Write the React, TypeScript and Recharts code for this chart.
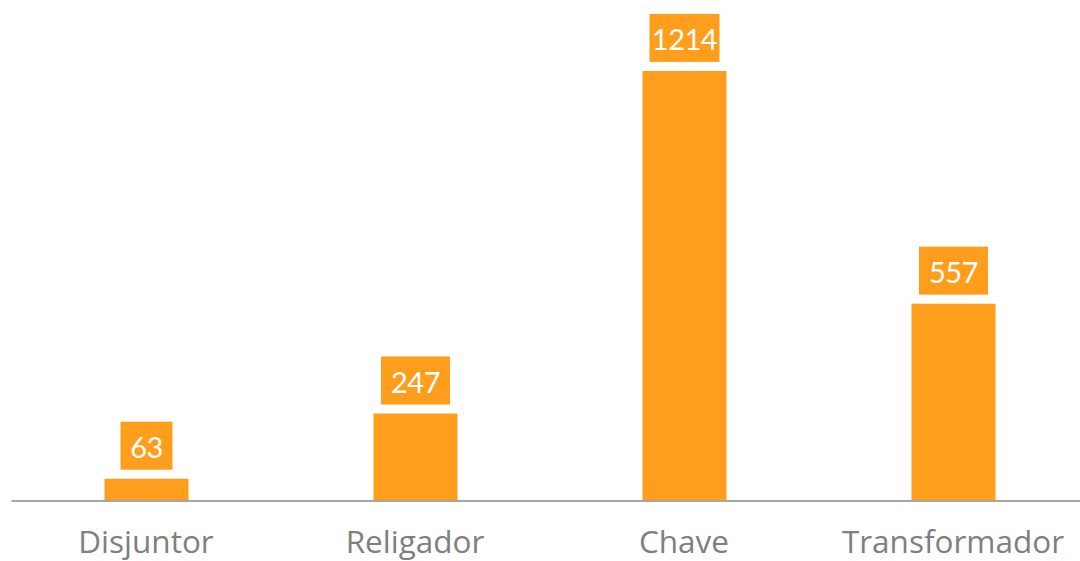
import React from 'react';
import { BarChart, Bar, XAxis, YAxis, LabelList } from 'recharts';

// categories and counts
const categories = ['Disjuntor', 'Religador', 'Chave', 'Transformador'];
const counts = [63, 247, 1214, 557];

const data = categories.map((name, i) => ({ name, value: counts[i] }));

const ORANGE = '#FE9E1C';

// rough text width so the orange label box fits its number
const boxWidth = (s: string) =>
  s.split('').reduce((w, c) => w + (c === '1' ? 9 : 17), 0) + 18;

const ValueBox = (props: any) => {
  const { x, y, width, value } = props;
  const text = String(value);
  const w = boxWidth(text);
  const h = 48;
  const cx = x + width / 2;
  const top = y - 9 - h;
  return (
    <g>
      <rect x={cx - w / 2} y={top} width={w} height={h} fill={ORANGE} />
      <text
        x={cx}
        y={top + h / 2 + 1}
        textAnchor="middle"
        dominantBaseline="central"
        fill="#fff"
        fontSize={29}
        letterSpacing={-0.5}
        fontFamily="Lato, sans-serif"
      >
        {text}
      </text>
    </g>
  );
};

const CategoryTick = (props: any) => {
  const { x, y, payload } = props;
  return (
    <text
      x={x}
      y={y + 44}
      textAnchor="middle"
      fill="#7f7f7f"
      fontSize={31.5}
      fontFamily='"Open Sans", sans-serif'
    >
      {payload.value}
    </text>
  );
};

const App: React.FC = () => (
  <div
    style={{ position: 'absolute', left: 0, top: 0, width: 1080, height: 561, overflow: 'hidden' }}
  >
    <BarChart
      width={1100}
      height={561}
      data={data}
      margin={{ top: 5, right: 12.5, left: 11.5, bottom: 0 }}
    >
      <XAxis
        dataKey="name"
        height={60}
        axisLine={{ stroke: '#a6a6a6', strokeWidth: 2 }}
        tickLine={false}
        tick={<CategoryTick />}
        interval={0}
      />
      <YAxis hide domain={[0, 1400]} />
      <Bar dataKey="value" fill={ORANGE} barSize={84} isAnimationActive={false}>
        <LabelList dataKey="value" content={<ValueBox />} />
      </Bar>
    </BarChart>
  </div>
);

export default App;
